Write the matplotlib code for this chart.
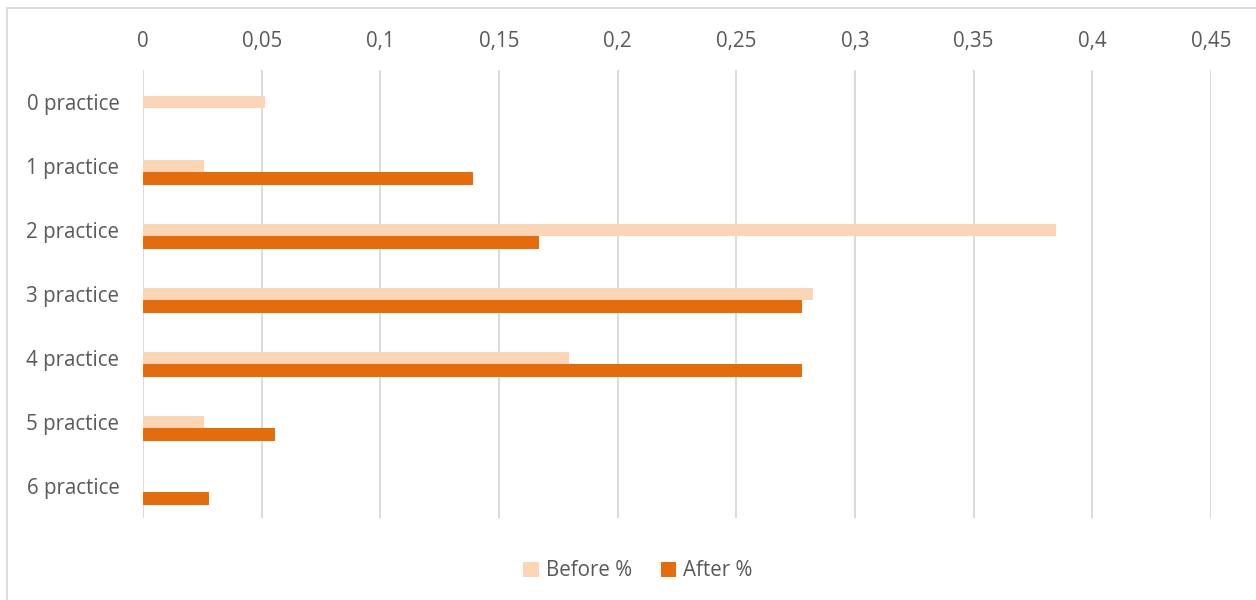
import matplotlib.pyplot as plt
import numpy as np
from matplotlib.patches import Rectangle
from matplotlib.ticker import FuncFormatter, MultipleLocator

categories = ["0 practice", "1 practice", "2 practice", "3 practice",
              "4 practice", "5 practice", "6 practice"]
before_pct = [0.0513, 0.0256, 0.3846, 0.2821, 0.1795, 0.0256, 0.0]
after_pct = [0.0, 0.1389, 0.1667, 0.2778, 0.2778, 0.0556, 0.0278]

plt.rcParams["font.family"] = ["Open Sans", "DejaVu Sans"]
text_color = "#595959"
grid_color = "#D9D9D9"
fs = 14.8

fig = plt.figure(figsize=(12.56, 6.0), dpi=100)
ax = fig.add_axes([143 / 1256, 82 / 600, 1068 / 1256, 448 / 600])

# chart border, runs off the right and bottom edges
fig.patches.append(Rectangle((7 / 1256, -0.05), 1.1, 0.05 + 592 / 600,
                             transform=fig.transFigure, fill=False,
                             edgecolor=grid_color, linewidth=1.3, zorder=0))

y = np.arange(len(categories))
bar_h = 0.2
ax.barh(y, before_pct, height=bar_h, color="#FBD5B5", label="Before %", zorder=3)
ax.barh(y + bar_h, after_pct, height=bar_h, color="#E46C0A", label="After %", zorder=3)

ax.set_xlim(0, 0.45)
ax.set_ylim(len(categories) - 0.5, -0.5)
ax.xaxis.set_major_locator(MultipleLocator(0.05))
ax.xaxis.set_major_formatter(FuncFormatter(
    lambda v, _: f"{v:.2f}".rstrip("0").rstrip(".").replace(".", ",")))
ax.xaxis.tick_top()
ax.set_yticks(y)
ax.set_yticklabels(categories)

ax.tick_params(axis="x", length=0, pad=13, labelsize=fs, labelcolor=text_color)
ax.tick_params(axis="y", length=0, pad=17, labelsize=fs, labelcolor=text_color)
ax.grid(axis="x", color=grid_color, linewidth=1.4, zorder=0)
for s in ax.spines.values():
    s.set_visible(False)

fig.legend(loc="center", bbox_to_anchor=(638 / 1256, 1 - 571 / 600), ncol=2,
           frameon=False, fontsize=fs, labelcolor=text_color,
           handlelength=0.75, handleheight=0.75, handletextpad=0.35, columnspacing=1.4)

fig.savefig("out.png", dpi=100)
